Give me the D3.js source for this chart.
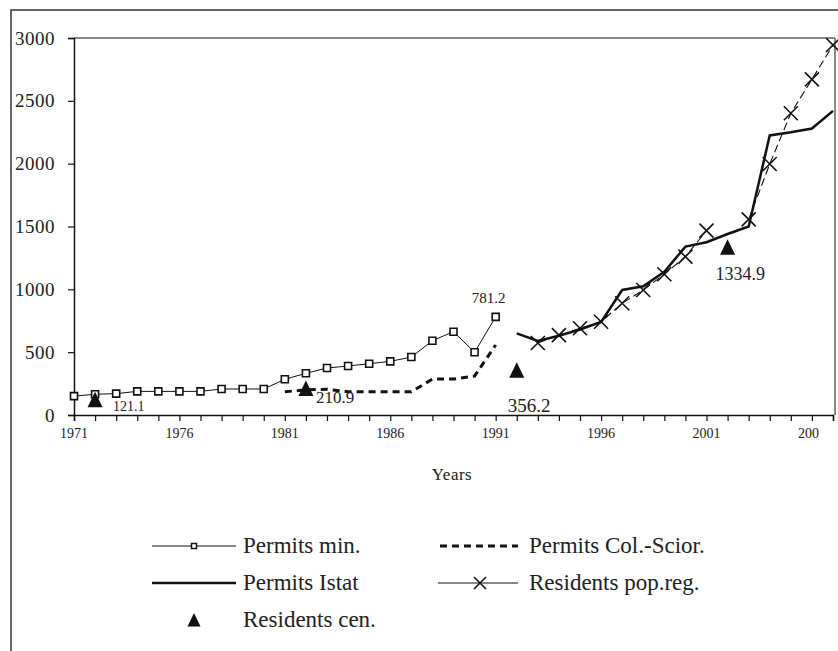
<!DOCTYPE html>
<html><head><meta charset="utf-8">
<script src="https://cdn.jsdelivr.net/npm/d3@7"></script>
<style>body{margin:0;background:#fff}svg{display:block}text{font-family:"Liberation Serif","DejaVu Serif",serif}</style>
</head><body><svg id="c" width="838" height="651"></svg>
<script>
// ---- data ----
const permitsMinYears = d3.range(1971, 1992);
const permitsMin = [150,165,170,188,188,188,188,207,207,207,284,332,374,390,408,427,461,591,663,499,781.2];
const colSciorYears = d3.range(1981, 1992);
const colScior = [185,200,205,185,185,185,185,286,286,310,557];
const istatYears = d3.range(1992, 2008);
const istat = [650,590,630,680,740,995,1025,1140,1340,1375,1440,1500,2225,2250,2280,2420];
const popRegYears = d3.range(1993, 2008);
const popReg = [573,636,690,742,889,995,1120,1260,1467,null,1557,1997,2401,2671,2944];
const censusYears = [1972,1982,1992,2002];
const census = [121.1,210.9,356.2,1334.9];
const yTicks = [0,500,1000,1500,2000,2500,3000];
const xLabelYears = [1971,1976,1981,1986,1991,1996,2001,2006];
const legendItems = ["Permits min.","Permits Col.-Scior.","Permits Istat","Residents pop.reg.","Residents cen."];

const svg = d3.select("#c");
const x = d3.scaleLinear().domain([1971, 2007]).range([74, 833]);
const y = d3.scaleLinear().domain([0, 3000]).range([415, 38]);

// outer frame
svg.append("path").attr("d", "M11,651 L11,10 L838,10").attr("fill","none").attr("stroke","#333").attr("stroke-width",1.5);

// top gridline & right border (gray)
svg.append("line").attr("x1", x(1971)).attr("x2", 835).attr("y1", y(3000)).attr("y2", y(3000)).attr("stroke","#888").attr("stroke-width",2);
svg.append("line").attr("x1", 835).attr("x2", 835).attr("y1", y(3000)).attr("y2", y(0)).attr("stroke","#888").attr("stroke-width",2);

// y axis
const yAxis = svg.append("g").attr("transform", `translate(${x(1971)},0)`)
  .call(d3.axisLeft(y).tickValues(yTicks).tickSize(6).tickPadding(13).tickFormat(d3.format("d")));
yAxis.select(".domain").attr("stroke","#111").attr("stroke-width",1.5);
yAxis.selectAll(".tick line").attr("stroke","#111").attr("stroke-width",1.2);
yAxis.selectAll("text").attr("font-family", null).attr("font-size", 19).attr("fill","#222").attr("letter-spacing","0.5px");
yAxis.attr("font-family", null);

// x axis
svg.append("defs").append("clipPath").attr("id","xlab").append("rect").attr("x",0).attr("y",0).attr("width",819).attr("height",651);
const xAxis = svg.append("g").attr("transform", `translate(0,${y(0)})`)
  .call(d3.axisBottom(x).tickValues(d3.range(1971, 2008)).tickSize(6).tickFormat(""));
xAxis.select(".domain").attr("stroke","#111").attr("stroke-width",1.5);
xAxis.selectAll(".tick line").attr("stroke","#111").attr("stroke-width",1.2);
svg.append("g").attr("clip-path","url(#xlab)").selectAll("text").data(xLabelYears).join("text")
  .attr("x", d => x(d)).attr("y", 438).attr("text-anchor","middle")
  .attr("font-size", 14).attr("fill","#222").text(d => d);

svg.append("text").attr("x", 452).attr("y", 480).attr("text-anchor","middle")
  .attr("font-size", 17).attr("fill","#222").attr("letter-spacing","0.5px").text("Years");

// lines
const mk = (yrs, vals) => yrs.map((yr, i) => ({yr, v: vals[i]}));
const line = d3.line().defined(d => d.v != null).x(d => x(d.yr)).y(d => y(d.v));

svg.append("path").datum(mk(colSciorYears, colScior)).attr("d", line)
  .attr("fill","none").attr("stroke","#111").attr("stroke-width",3).attr("stroke-dasharray","7,5");
svg.append("path").datum(mk(istatYears, istat)).attr("d", line)
  .attr("fill","none").attr("stroke","#111").attr("stroke-width",2.5);
svg.append("path").datum(mk(popRegYears, popReg)).attr("d", line)
  .attr("fill","none").attr("stroke","#111").attr("stroke-width",1.1).attr("stroke-dasharray","8,4");
svg.append("path").datum(mk(permitsMinYears, permitsMin)).attr("d", line)
  .attr("fill","none").attr("stroke","#111").attr("stroke-width",1);

// markers
const squarePath = "M-3.5,-3.5H3.5V3.5H-3.5Z";
const crossPath = "M-7,-7L7,7M-7,7L7,-7";
const triPath = "M0,-8L7.5,7.5L-7.5,7.5Z";
svg.append("g").selectAll("path").data(mk(permitsMinYears, permitsMin)).join("path")
  .attr("transform", d => `translate(${x(d.yr)},${y(d.v)})`).attr("d", squarePath)
  .attr("fill","#fff").attr("stroke","#111").attr("stroke-width",1.6);
svg.append("g").selectAll("path").data(mk(popRegYears, popReg).filter(d => d.v != null)).join("path")
  .attr("transform", d => `translate(${x(d.yr)},${y(d.v)})`).attr("d", crossPath)
  .attr("fill","none").attr("stroke","#111").attr("stroke-width",1.6);
svg.append("g").selectAll("path").data(mk(censusYears, census)).join("path")
  .attr("transform", d => `translate(${x(d.yr)},${y(d.v)})`).attr("d", triPath)
  .attr("fill","#111");

// value labels
const labels = [
  {yr: 1972, v: 121.1, dx: 18, dy: 11, size: 14},
  {yr: 1982, v: 210.9, dx: 10, dy: 15, size: 17},
  {yr: 1992, v: 356.2, dx: -9, dy: 42, size: 19},
  {yr: 1991, v: 781.2, dx: -24, dy: -14, size: 15},
  {yr: 2002, v: 1334.9, dx: -12, dy: 33, size: 18}
];
svg.append("g").selectAll("text").data(labels).join("text")
  .attr("x", d => x(d.yr) + d.dx).attr("y", d => y(d.v) + d.dy)
  .attr("font-size", d => d.size).attr("fill","#222")
  .text(d => d3.format(".1f")(d.v));

// legend
const lg = svg.append("g").attr("font-size", 23).attr("fill","#222");
const rows = [546, 583, 620];
const pos = [
  {lx1:152, lx2:236, tx:243, ry:rows[0]},
  {lx1:440, lx2:518, tx:529, ry:rows[0]},
  {lx1:152, lx2:236, tx:243, ry:rows[1]},
  {lx1:438, lx2:518, tx:529, ry:rows[1]},
  {lx1:194, lx2:194, tx:243, ry:rows[2]}
];
legendItems.forEach((name, i) => {
  const p = pos[i];
  const g = lg.append("g");
  if (i === 0) {
    g.append("line").attr("x1",p.lx1).attr("x2",p.lx2).attr("y1",p.ry).attr("y2",p.ry).attr("stroke","#111").attr("stroke-width",1);
    g.append("path").attr("d","M-2.5,-2.5H2.5V2.5H-2.5Z").attr("transform",`translate(194,${p.ry})`).attr("fill","#fff").attr("stroke","#111").attr("stroke-width",1.5);
  } else if (i === 1) {
    g.append("line").attr("x1",p.lx1).attr("x2",p.lx2).attr("y1",p.ry).attr("y2",p.ry).attr("stroke","#111").attr("stroke-width",3).attr("stroke-dasharray","7,5");
  } else if (i === 2) {
    g.append("line").attr("x1",p.lx1).attr("x2",p.lx2).attr("y1",p.ry).attr("y2",p.ry).attr("stroke","#111").attr("stroke-width",2.5);
  } else if (i === 3) {
    g.append("line").attr("x1",p.lx1).attr("x2",p.lx2).attr("y1",p.ry).attr("y2",p.ry).attr("stroke","#111").attr("stroke-width",1);
    g.append("path").attr("d","M-6,-6L6,6M-6,6L6,-6").attr("transform",`translate(480,${p.ry})`).attr("fill","none").attr("stroke","#111").attr("stroke-width",1.6);
  } else {
    g.append("path").attr("d","M0,-7L6.5,6.5L-6.5,6.5Z").attr("transform",`translate(194,${p.ry})`).attr("fill","#111");
  }
  g.append("text").attr("x", p.tx).attr("y", p.ry + 7).text(name);
});
</script></body></html>
